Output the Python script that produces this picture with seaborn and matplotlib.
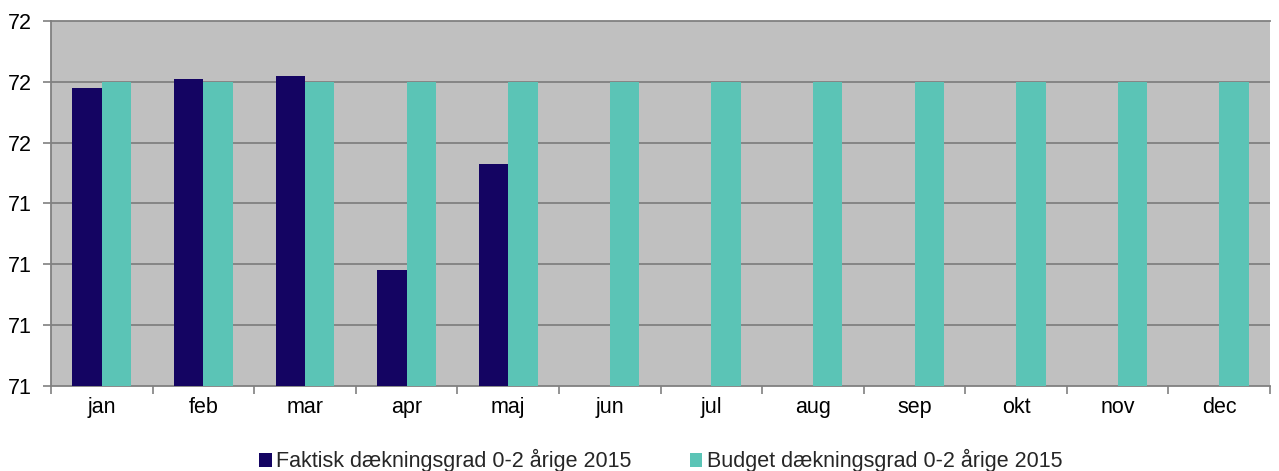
import matplotlib
matplotlib.use("Agg")
import matplotlib.pyplot as plt
import seaborn as sns
import pandas as pd
import numpy as np
from matplotlib.ticker import FixedLocator

months = ["jan", "feb", "mar", "apr", "maj", "jun", "jul", "aug", "sep", "okt", "nov", "dec"]
faktisk = [71.78, 71.81, 71.82, 71.18, 71.53, None, None, None, None, None, None, None]
budget = [71.8] * 12
series_names = ["Faktisk dækningsgrad 0-2 årige 2015", "Budget dækningsgrad 0-2 årige 2015"]
y_ticks = [70.8, 71.0, 71.2, 71.4, 71.6, 71.8, 72.0]
y_tick_labels = ["71", "71", "71", "71", "72", "72", "72"]
colors = ["#140462", "#5BC4B6"]

rows = []
for m, f, b in zip(months, faktisk, budget):
    rows.append({"month": m, "series": series_names[0], "value": np.nan if f is None else f})
    rows.append({"month": m, "series": series_names[1], "value": b})
df = pd.DataFrame(rows)

sns.set_theme(style="white")
plt.rcParams["font.family"] = ["Liberation Sans", "DejaVu Sans"]

fig = plt.figure(figsize=(12.79, 4.71), dpi=100)
ax = fig.add_axes([0.0399, 0.1805, 0.9531, 0.7749])
ax.set_facecolor("#C0C0C0")

sns.barplot(data=df, x="month", y="value", hue="series", order=months,
            hue_order=series_names, palette=colors, width=0.58,
            saturation=1, errorbar=None, ax=ax, zorder=3, linewidth=0)

ax.set_ylim(70.8, 72.0)
ax.yaxis.set_major_locator(FixedLocator(y_ticks))
ax.set_yticklabels(y_tick_labels)
ax.set_xlim(-0.5, len(months) - 0.5)
for y in y_ticks[1:-1]:
    ax.axhline(y, color="#808080", lw=1.3, zorder=1)

ax.set_xlabel("")
ax.set_ylabel("")
for s in ax.spines.values():
    s.set_color("#808080")
    s.set_linewidth(1.3)
ax.spines["right"].set_visible(False)

ax.tick_params(axis="y", which="major", direction="out", length=6, width=1.2,
               color="#808080", labelsize=15.5, pad=8, left=True)
ax.tick_params(axis="x", which="major", length=0, labelsize=15.5, pad=8)
ax.xaxis.set_minor_locator(FixedLocator(np.arange(-0.5, len(months), 1.0)))
ax.tick_params(axis="x", which="minor", direction="out", length=6, width=1.2,
               color="#808080", bottom=True)
for lbl in ax.get_xticklabels() + ax.get_yticklabels():
    lbl.set_color("black")

ax.legend(loc="center", bbox_to_anchor=(0.5, -0.205), ncol=2, frameon=False,
          fontsize=15.5, handlelength=0.6, handleheight=0.6, handletextpad=0.2,
          columnspacing=2.7, borderpad=0)

fig.savefig("out.png", dpi=100)
